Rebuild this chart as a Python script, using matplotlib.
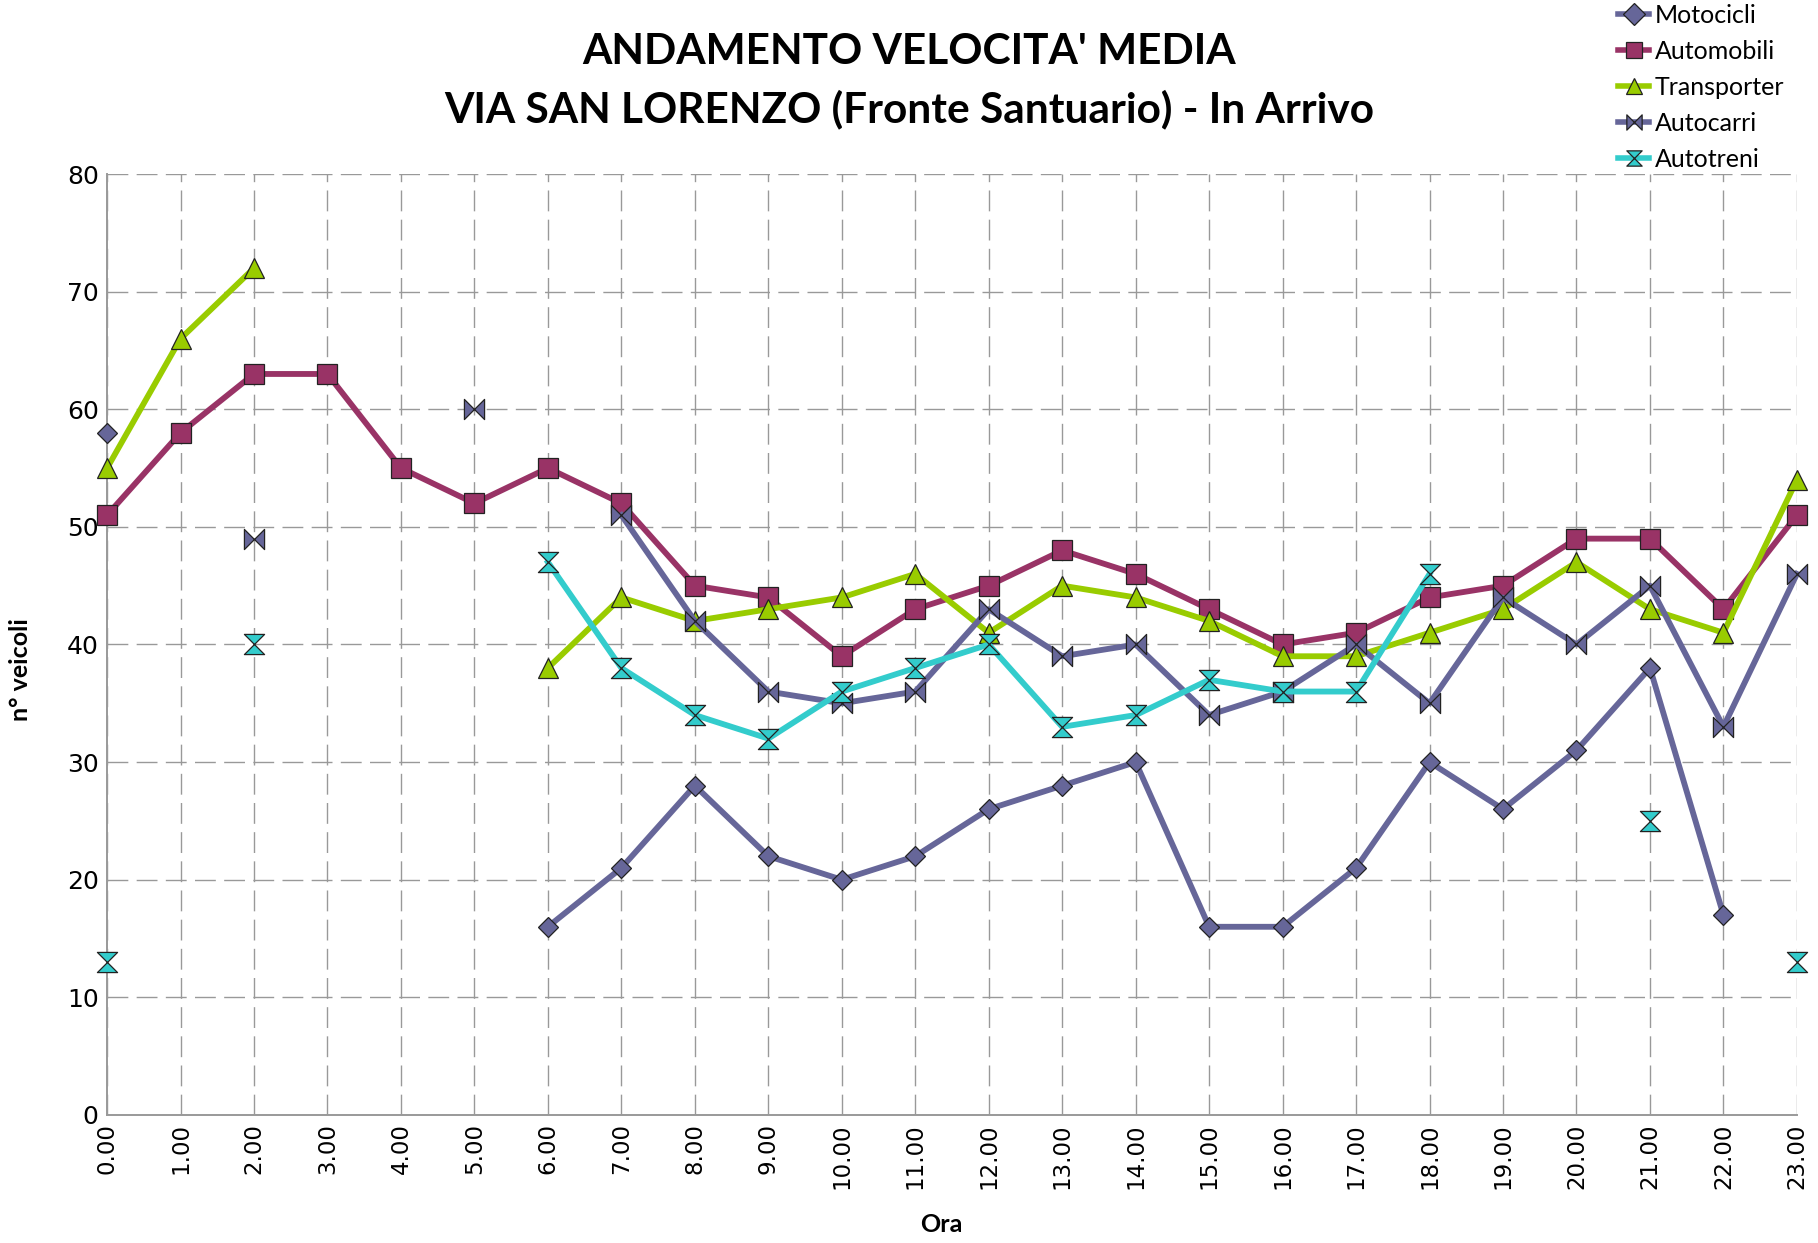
import numpy as np
import matplotlib.pyplot as plt
from matplotlib.path import Path

nan = np.nan

# Ore del giorno
ore = list(range(24))
ore_labels = ["%d.00" % h for h in ore]

motocicli = [58, nan, nan, nan, nan, nan, 16, 21, 28, 22, 20, 22, 26, 28, 30, 16, 16, 21, 30, 26, 31, 38, 17, nan]
automobili = [51, 58, 63, 63, 55, 52, 55, 52, 45, 44, 39, 43, 45, 48, 46, 43, 40, 41, 44, 45, 49, 49, 43, 51]
transporter = [55, 66, 72, nan, nan, nan, 38, 44, 42, 43, 44, 46, 41, 45, 44, 42, 39, 39, 41, 43, 47, 43, 41, 54]
autocarri = [nan, nan, 49, nan, nan, 60, nan, 51, 42, 36, 35, 36, 43, 39, 40, 34, 36, 40, 35, 44, 40, 45, 33, 46]
autotreni = [13, nan, 40, nan, nan, nan, 47, 38, 34, 32, 36, 38, 40, 33, 34, 37, 36, 36, 46, nan, nan, 25, nan, 13]

# marker custom: farfallino e clessidra
bowtie = Path([(-1, 1), (1, -1), (1, 1), (-1, -1), (-1, 1)],
              [Path.MOVETO, Path.LINETO, Path.LINETO, Path.LINETO, Path.CLOSEPOLY])
hourglass = Path([(-1, 1), (1, 1), (-1, -1), (1, -1), (-1, 1)],
                 [Path.MOVETO, Path.LINETO, Path.LINETO, Path.LINETO, Path.CLOSEPOLY])

series = [
    ("Motocicli", motocicli, "#666699", "D", 10.5),
    ("Automobili", automobili, "#993366", "s", 14),
    ("Transporter", transporter, "#99CC00", "^", 14.5),
    ("Autocarri", autocarri, "#666699", bowtie, 14.5),
    ("Autotreni", autotreni, "#33CCCC", hourglass, 14.5),
]

fig = plt.figure(figsize=(18.18, 12.43), dpi=100)
ax = fig.add_axes([0.0589, 0.103, 0.9295, 0.757])

for name, vals, col, mk, ms in series:
    ax.plot(ore, vals, color=col, lw=4.2, marker=mk, markersize=ms,
            markerfacecolor=col, markeredgecolor="#222222", markeredgewidth=0.9,
            label=name, clip_on=False, zorder=3)

ax.set_xlim(0, 23)
ax.set_ylim(0, 80)
ax.set_xticks(ore)
ax.set_xticklabels(ore_labels, rotation=90, fontsize=16.5, family="DejaVu Sans")
ax.set_yticks(range(0, 81, 10))
ax.tick_params(axis="both", length=0, pad=6)
ax.tick_params(axis="y", labelsize=18)

ax.grid(True, color="#999999", lw=1.0, dashes=(15, 6))
for s in ["top", "right"]:
    ax.spines[s].set_visible(False)
for s in ["left", "bottom"]:
    ax.spines[s].set_color("#999999")
    ax.spines[s].set_linewidth(1.4)

fig.text(0.5176, 0.0145, "Ora", ha="center", va="center", fontsize=18, fontweight="bold", family="Lato")
fig.text(0.0115, 0.461, "n° veicoli", ha="center", va="center", rotation=90,
         fontsize=18, fontweight="bold", family="Lato")

fig.text(0.5, 0.958, "ANDAMENTO VELOCITA' MEDIA", ha="center", va="center",
         fontsize=30.5, fontweight="bold", family="Lato")
fig.text(0.5, 0.912, "VIA SAN LORENZO (Fronte Santuario) - In Arrivo", ha="center", va="center",
         fontsize=30.5, fontweight="bold", family="Lato")

leg = ax.legend(loc="upper left", bbox_to_anchor=(0.888, 1.0), bbox_transform=fig.transFigure,
                frameon=False, prop={"family": "Lato", "size": 18},
                handlelength=1.25, labelspacing=0.52, handletextpad=0.22,
                borderaxespad=0, borderpad=0.15)
for h in leg.legend_handles:
    h.set_markersize(11)
    h.set_linewidth(4)

fig.savefig("out.png", dpi=100)
